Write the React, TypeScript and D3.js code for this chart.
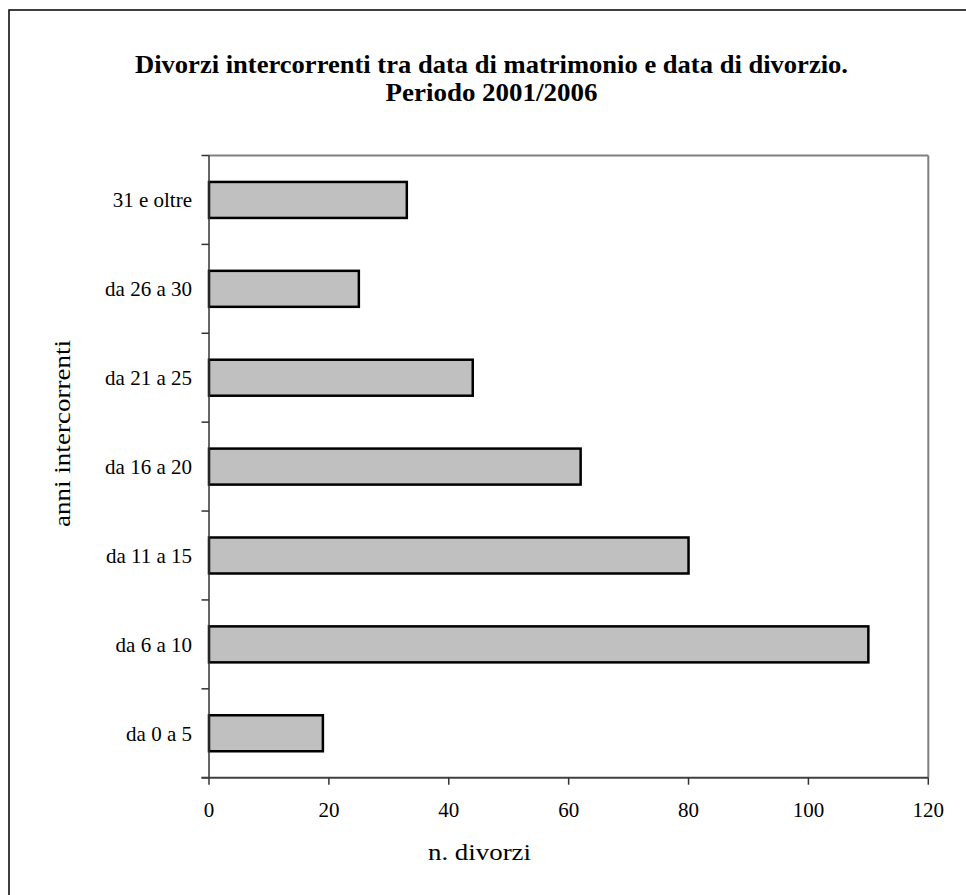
import React from "react";
import * as d3 from "d3";

const categories = ["da 0 a 5", "da 6 a 10", "da 11 a 15", "da 16 a 20", "da 21 a 25", "da 26 a 30", "31 e oltre"];
const values = [19, 110, 80, 62, 44, 25, 33];
const xTicks = [0, 20, 40, 60, 80, 100, 120];
const titleLines = ["Divorzi intercorrenti tra data di matrimonio e data di divorzio.", "Periodo 2001/2006"];
const xTitle = "n. divorzi";
const yTitle = "anni intercorrenti";

const W = 966;
const H = 895;
const left = 209;
const right = 928.3;
const top = 155.5;
const bottom = 777.7;
const FONT = "'Liberation Serif', 'Times New Roman', serif";

export default function App() {
  const x = d3.scaleLinear().domain([0, 120]).range([left, right]);
  const p = 0.595;
  const y = d3
    .scaleBand<string>()
    .domain([...categories].reverse())
    .range([top, bottom])
    .paddingInner(p)
    .paddingOuter(p / 2);
  const step = y.step();
  const boundaries = d3.range(categories.length + 1).map((i) => top + i * step);

  return (
    <svg
      width={W}
      height={H}
      style={{ position: "absolute", left: 0, top: 0, background: "#fff" }}
      fontFamily={FONT}
    >
      <rect x={9} y={10} width={1200} height={1200} fill="#fff" stroke="#000" strokeWidth={1.5} />
      {/* title */}
      <text x={491.5} y={73} textAnchor="middle" fontWeight="bold" fontSize={25} textLength={713} lengthAdjust="spacingAndGlyphs">
        {titleLines[0]}
      </text>
      <text x={491.5} y={101} textAnchor="middle" fontWeight="bold" fontSize={25} textLength={212} lengthAdjust="spacingAndGlyphs">
        {titleLines[1]}
      </text>
      {/* frame top/right */}
      <line x1={left} x2={right} y1={top} y2={top} stroke="#808080" strokeWidth={2} />
      <line x1={right} x2={right} y1={top} y2={bottom} stroke="#808080" strokeWidth={2} />
      {/* bars */}
      {categories.map((c, i) => (
        <rect
          key={c}
          x={x(0)}
          y={y(c)}
          width={x(values[i]) - x(0)}
          height={y.bandwidth()}
          fill="#c0c0c0"
          stroke="#000"
          strokeWidth={2.5}
        />
      ))}
      {/* left axis */}
      <line x1={left} x2={left} y1={top} y2={bottom} stroke="#333" strokeWidth={1.5} />
      {boundaries.map((b, i) => (
        <line key={i} x1={left - 7.5} x2={left} y1={b} y2={b} stroke="#333" strokeWidth={1.5} />
      ))}
      {categories.map((c) => (
        <text
          key={c}
          x={192}
          y={(y(c) as number) + y.bandwidth() / 2}
          dy="0.35em"
          textAnchor="end"
          fontSize={21}
        >
          {c}
        </text>
      ))}
      {/* bottom axis */}
      <line x1={left - 7.5} x2={right} y1={bottom} y2={bottom} stroke="#404040" strokeWidth={2} />
      {xTicks.map((t) => (
        <g key={t}>
          <line x1={x(t)} x2={x(t)} y1={bottom} y2={bottom + 7} stroke="#333" strokeWidth={1.5} />
          <text x={x(t)} y={817} textAnchor="middle" fontSize={21}>
            {t}
          </text>
        </g>
      ))}
      {/* axis titles */}
      <text x={479.5} y={860} textAnchor="middle" fontSize={24} textLength={103} lengthAdjust="spacingAndGlyphs">
        {xTitle}
      </text>
      <text
        transform={`translate(70, 433.5) rotate(-90)`}
        textAnchor="middle"
        fontSize={24}
        textLength={187}
        lengthAdjust="spacingAndGlyphs"
      >
        {yTitle}
      </text>
    </svg>
  );
}
